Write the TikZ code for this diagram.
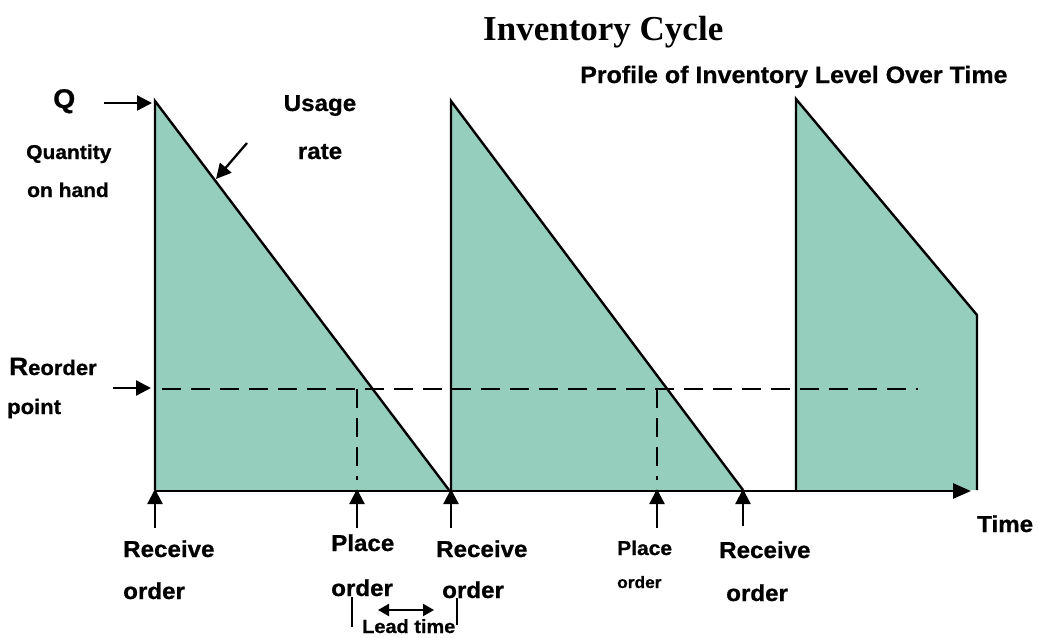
\documentclass[tikz,border=0pt]{standalone}
\usepackage{fontspec}
\setmainfont{Liberation Sans}[FakeStretch=1.05, BoldFeatures={FakeBold=0.8}]
\newfontfamily\headfont{Liberation Serif}
\usetikzlibrary{arrows.meta}
\definecolor{stock}{RGB}{150,206,190}
\newcommand\fsz[1]{\fontsize{#1}{#1}\selectfont\bfseries}

\begin{document}
\begin{tikzpicture}[x=1pt,y=-1pt,
  lbl/.style={inner sep=0pt, anchor=base west},
  outline/.style={line width=2.4pt, line join=miter},
  level/.style={line width=2.3pt, dash pattern=on 19pt off 10pt},
  pointer/.style={line width=2.3pt, -{Triangle[length=15pt,width=15pt]}},
  timeaxis/.style={line width=2.6pt, -{Triangle[length=18pt,width=15pt]}},
  span/.style={line width=2.2pt, {Triangle[length=11pt,width=12pt]}-{Triangle[length=11pt,width=12pt]}},
  tick/.style={line width=2.2pt}]
\useasboundingbox (0,0) rectangle (1038,637);

% key points of the saw-tooth profile
\coordinate (top1) at (155,101);
\coordinate (bot1) at (155,490);
\coordinate (end1) at (449,490);
\coordinate (top2) at (451,101);
\coordinate (bot2) at (451,490);
\coordinate (end2) at (743,490);
\coordinate (top3) at (796,99);
\coordinate (bot3) at (796,490);
\coordinate (cut3) at (977,315);
\coordinate (low3) at (977,490);

% stock on hand
\fill[stock] (bot1) -- (top1) -- (end1) -- cycle;
\fill[stock] (bot2) -- (top2) -- (end2) -- cycle;
\fill[stock] (bot3) -- (top3) -- (cut3) -- (low3) -- cycle;

% reorder level and order placement drops
\coordinate (rpL) at (162,389);
\coordinate (rpR) at (918,389);
\coordinate (po1) at (357,389);
\coordinate (po1b) at (357,480);
\coordinate (po2) at (657,389);
\coordinate (po2b) at (657,480);
\draw[level] (rpL) -- (rpR);
\draw[level] (po1) -- (po1b);
\draw[level] (po2) -- (po2b);

% profile outlines
\draw[outline] (bot1) -- (top1) -- (end1);
\draw[outline] (bot2) -- (top2) -- (end2);
\draw[outline] (bot3) -- (top3) -- (cut3) -- (low3);

% time axis
\coordinate (axisL) at (155,491);
\coordinate (axisR) at (971,491);
\draw[timeaxis] (axisL) -- (axisR);

% titles
\node[lbl] (title) at (483,40) {\headfont\fsz{35}Inventory Cycle};
\node[lbl] (sub) at (580,83) {\fsz{23.8}Profile of Inventory Level Over Time};

% left-hand labels
\node[lbl] (Q) at (53,108) {\fsz{27}Q};
\node[lbl] (qty1) at (26,159) {\fsz{20}Quantity};
\node[lbl] (qty2) at (27,197) {\fsz{20}on hand};
\node[lbl] (rp1) at (9,375) {\fontsize{25}{25}\selectfont\bfseries R\fsz{21}eorder};
\node[lbl] (rp2) at (7,414) {\fsz{21}point};

\coordinate (qTail) at (104,103);
\coordinate (qTip) at (152,103);
\draw[pointer] (qTail) -- (qTip);
\coordinate (rTail) at (113,388);
\coordinate (rTip) at (151,388);
\draw[pointer] (rTail) -- (rTip);

% usage rate
\node[inner sep=0pt, anchor=base] (use1) at (320,111) {\fsz{23}Usage};
\node[inner sep=0pt, anchor=base] (use2) at (320,159) {\fsz{23}rate};
\coordinate (uTail) at (247,143);
\coordinate (uTip) at (216,179);
\draw[pointer] (uTail) -- (uTip);

% events along the time axis
\foreach \n/\x/\y in {e1/155/528, e2/357/528, e3/451/528, e4/657/528, e5/743/526}{
  \coordinate (\n t) at (\x,\y);
  \coordinate (\n h) at (\x,489);
  \draw[pointer] (\n t) -- (\n h);
}

\node[lbl] (rc1a) at (123,557) {\fsz{23}Receive};
\node[lbl] (rc1b) at (123,599) {\fsz{23}order};
\node[lbl] (pl1a) at (331,551) {\fsz{23}Place};
\node[lbl] (pl1b) at (331,596) {\fsz{23}order};
\node[lbl] (rc2a) at (436,557) {\fsz{23}Receive};
\node[lbl] (rc2b) at (442,598) {\fsz{23}order};
\node[lbl] (pl2a) at (617,555) {\fsz{20}Place};
\node[lbl] (pl2b) at (617,588) {\fsz{16.5}order};
\node[lbl] (rc3a) at (719,558) {\fsz{23}Receive};
\node[lbl] (rc3b) at (726,601) {\fsz{23}order};
\node[lbl] (time) at (977,532) {\fsz{23}Time};

% lead time span
\coordinate (lt1a) at (352,597);
\coordinate (lt1b) at (352,627);
\coordinate (lt2a) at (457,598);
\coordinate (lt2b) at (457,625);
\draw[tick] (lt1a) -- (lt1b);
\draw[tick] (lt2a) -- (lt2b);
\coordinate (ltL) at (378,610);
\coordinate (ltR) at (434,610);
\draw[span] (ltL) -- (ltR);
\node[lbl] (lead) at (362,633) {\fsz{19}Lead time};
\end{tikzpicture}
\end{document}
